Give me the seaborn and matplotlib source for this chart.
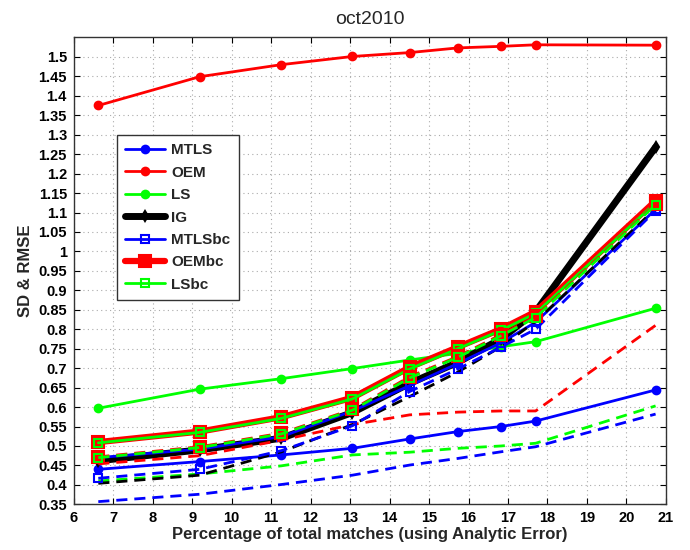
import matplotlib
matplotlib.use("Agg")
import matplotlib.pyplot as plt
import seaborn as sns

# Percentage of total matches at each threshold
pct = [6.62, 9.19, 11.26, 13.06, 14.51, 15.73, 16.82, 17.70, 20.74]

# RMSE per method (solid lines)
mtls = [0.440, 0.460, 0.477, 0.494, 0.518, 0.537, 0.550, 0.564, 0.644]
oem = [1.375, 1.449, 1.480, 1.501, 1.511, 1.523, 1.527, 1.531, 1.530]
ls = [0.597, 0.646, 0.673, 0.699, 0.721, 0.738, 0.755, 0.768, 0.854]
ig = [0.462, 0.490, 0.520, 0.586, 0.661, 0.715, 0.775, 0.845, 1.268]
mtls_bc = [0.470, 0.492, 0.524, 0.590, 0.655, 0.712, 0.765, 0.818, 1.108]
oem_bc = [0.510, 0.537, 0.574, 0.624, 0.702, 0.754, 0.800, 0.845, 1.130]
ls_bc = [0.508, 0.535, 0.571, 0.621, 0.698, 0.750, 0.797, 0.841, 1.125]

# SD per method (dashed lines)
mtls_sd = [0.357, 0.376, 0.401, 0.425, 0.451, 0.468, 0.485, 0.498, 0.582]
oem_sd = [0.454, 0.475, 0.515, 0.555, 0.580, 0.587, 0.590, 0.590, 0.810]
ls_sd = [0.410, 0.428, 0.449, 0.477, 0.484, 0.494, 0.500, 0.507, 0.603]
ig_sd = [0.404, 0.425, 0.485, 0.555, 0.627, 0.690, 0.755, 0.820, 1.110]
mtls_bc_sd = [0.417, 0.440, 0.488, 0.552, 0.640, 0.698, 0.754, 0.800, 1.105]
oem_bc_sd = [0.472, 0.498, 0.533, 0.594, 0.678, 0.730, 0.786, 0.833, 1.122]
ls_bc_sd = [0.470, 0.496, 0.531, 0.592, 0.675, 0.728, 0.783, 0.830, 1.120]

x_ticks = list(range(6, 22))
y_ticks = [round(0.35 + 0.05 * i, 2) for i in range(24)]

sns.set_style("white")
plt.rcParams["font.family"] = ["Liberation Sans", "DejaVu Sans"]

BLUE, RED, GREEN, BLACK = "#0000ff", "#ff0000", "#00ff00", "#000000"


def style(color, lw, marker=None, ms=6, open_face=False):
    kw = dict(color=color, lw=lw)
    if marker:
        kw.update(marker=marker, ms=ms, mec=color, mew=1.5,
                  mfc="none" if open_face else color)
    return kw


fig = plt.figure(figsize=(6.9, 5.5), dpi=100)
ax = fig.add_axes([0.107, 0.083, 0.858, 0.849])

solid = [
    ("MTLS", mtls, style(BLUE, 2, "o", 5.5)),
    ("OEM", oem, style(RED, 2, "o", 5.5)),
    ("LS", ls, style(GREEN, 2, "o", 5.5)),
    ("IG", ig, style(BLACK, 5, "d", 5)),
    ("MTLSbc", mtls_bc, style(BLUE, 2, "s", 6, open_face=True)),
    ("OEMbc", oem_bc, style(RED, 4.5, "s", 8)),
    ("LSbc", ls_bc, style(GREEN, 2, "s", 6, open_face=True)),
]
dashed = [
    (mtls_sd, style(BLUE, 2)),
    (oem_sd, style(RED, 2)),
    (ls_sd, style(GREEN, 2)),
    (ig_sd, style(BLACK, 2)),
    (mtls_bc_sd, style(BLUE, 2, "s", 6, open_face=True)),
    (oem_bc_sd, style(RED, 2, "s", 8)),
    (ls_bc_sd, style(GREEN, 2, "s", 6, open_face=True)),
]

handles, labels = [], []
for label, vals, kw in solid:
    n_before = len(ax.lines)
    sns.lineplot(x=pct, y=vals, ax=ax, linestyle="-", legend=False, **kw)
    handles.append(ax.lines[n_before])
    labels.append(label)
for vals, kw in dashed:
    sns.lineplot(x=pct, y=vals, ax=ax, linestyle=(0, (4, 2.5)),
                 legend=False, **kw)

ax.set_xlim(6, 21)
ax.set_ylim(0.35, 1.55)
ax.set_xticks(x_ticks)
ax.set_yticks(y_ticks)
ax.set_xticklabels([str(t) for t in x_ticks], fontweight="bold", fontsize=10.5)
ax.set_yticklabels([f"{t:g}" for t in y_ticks], fontweight="bold", fontsize=10.5)
ax.tick_params(direction="in", length=4, width=0.8, top=True, right=True,
               bottom=True, left=True, pad=5, colors="black")
ax.grid(True, linestyle=(0, (1, 3)), color="#aaaaaa", linewidth=0.8)
for sp in ax.spines.values():
    sp.set_color("#333333")
    sp.set_linewidth(1.0)

ax.set_xlabel("Percentage of total matches (using Analytic Error)",
              fontweight="bold", fontsize=12, labelpad=1)
ax.set_ylabel("SD & RMSE", fontweight="bold", fontsize=12, labelpad=4)
ax.set_title("oct2010", fontsize=14, pad=10)

leg = ax.legend(handles, labels, loc="upper left",
                bbox_to_anchor=(0.073, 0.791), borderaxespad=0,
                prop={"weight": "bold", "size": 11}, frameon=True,
                fancybox=False, handlelength=2.6, borderpad=0.55,
                labelspacing=0.55, handletextpad=0.4)
leg.get_frame().set_edgecolor("#333333")
leg.get_frame().set_linewidth(1.0)
leg.get_frame().set_alpha(1)

fig.savefig("out.png", dpi=100)
